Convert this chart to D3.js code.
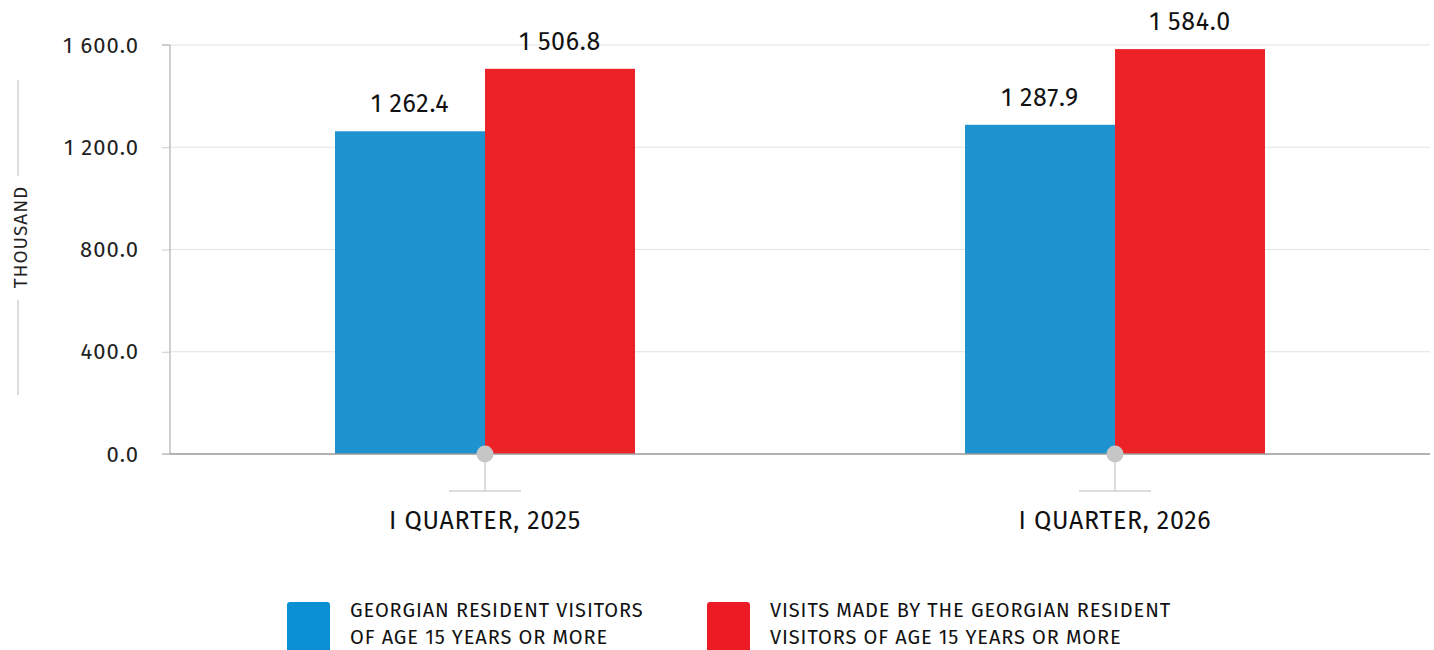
<!DOCTYPE html>
<html><head><meta charset="utf-8">
<script src="https://cdn.jsdelivr.net/npm/d3@7"></script>
<style>
html,body{margin:0;padding:0;background:#fff;}
svg{display:block;font-family:"Fira Sans",Roboto,"Noto Sans",sans-serif;font-weight:400;}
</style></head>
<body>
<svg id="chart" width="1434" height="650"></svg>
<script>
const categories = ["I QUARTER, 2025", "I QUARTER, 2026"];
const seriesNames = ["GEORGIAN RESIDENT VISITORS|OF AGE 15 YEARS OR MORE", "VISITS MADE BY THE GEORGIAN RESIDENT|VISITORS OF AGE 15 YEARS OR MORE"];
const visitors = [1262.4, 1287.9];
const visits = [1506.8, 1584.0];
const yTicks = [0, 400, 800, 1200, 1600];
const colors = ["#1e93d0", "#ed2226"];
const legendColors = ["#0a8fd5", "#ed1c24"];

(function(){
const FONT = "\"Fira Sans\",Roboto,\"Noto Sans\",sans-serif";
const svg = d3.select("#chart");
const mLeft = 170, mRight = 1430, mTop = 45, mBottom = 454;
const fmtS = v => d3.format(",.1f")(v).replace(/,/g, " ");

const x = d3.scaleBand().domain(categories).range([mLeft, mRight]).padding(0);
const y = d3.scaleLinear().domain([0, 1600]).range([mBottom, mTop]);
const barW = 150;

svg.append("g").selectAll("line").data(yTicks.filter(t => t > 0)).join("line")
  .attr("x1", mLeft).attr("x2", mRight).attr("y1", d => y(d)).attr("y2", d => y(d))
  .attr("stroke", "#e3e3e3").attr("stroke-width", 1);

const yAxis = svg.append("g").attr("transform", `translate(${mLeft},0)`)
  .call(d3.axisLeft(y).tickValues(yTicks).tickSize(8).tickPadding(24).tickFormat(fmtS))
  .attr("font-family", FONT).attr("font-size", 22);
yAxis.select(".domain").attr("stroke", "#a0a0a0").attr("d", `M-8,${mTop}H0V${mBottom}H-8`);
yAxis.selectAll(".tick line").attr("stroke", "#c8c8c8");
yAxis.selectAll(".tick text").attr("fill", "#222").attr("letter-spacing", 1).attr("dx", 1);

const data = [visitors, visits];
data.forEach((vals, si) => {
  const g = svg.append("g");
  g.selectAll("rect").data(vals).join("rect")
    .attr("x", (d, i) => x(categories[i]) + x.bandwidth() / 2 - barW + si * barW)
    .attr("y", d => y(d)).attr("width", barW).attr("height", d => y(0) - y(d))
    .attr("fill", colors[si]);
  g.selectAll("text").data(vals).join("text")
    .attr("x", (d, i) => x(categories[i]) + x.bandwidth() / 2 - barW / 2 + si * barW)
    .attr("y", d => y(d) - 19).attr("text-anchor", "middle")
    .attr("font-size", 25).attr("letter-spacing", 0.7).attr("fill", "#111").text(d => fmtS(d));
});

svg.append("line").attr("x1", mLeft).attr("x2", mRight).attr("y1", mBottom).attr("y2", mBottom)
  .attr("stroke", "#999").attr("stroke-width", 1.5);

const cg = svg.append("g").selectAll("g").data(categories).join("g")
  .attr("transform", d => `translate(${x(d) + x.bandwidth() / 2},0)`);
cg.append("line").attr("x1", 0).attr("x2", 0).attr("y1", mBottom).attr("y2", 491).attr("stroke", "#d2d2d2").attr("stroke-width", 1.5);
cg.append("line").attr("x1", -36).attr("x2", 36).attr("y1", 491).attr("y2", 491).attr("stroke", "#d2d2d2").attr("stroke-width", 1.5);
cg.append("circle").attr("cx", 0).attr("cy", mBottom).attr("r", 8.5).attr("fill", "#c6c6c6");
cg.append("text").attr("y", 529).attr("text-anchor", "middle").attr("font-size", 25).attr("letter-spacing", 0.7).attr("fill", "#111").text(d => d);

svg.append("text").attr("transform", "translate(27,237) rotate(-90)").attr("text-anchor", "middle")
  .attr("font-size", 19).attr("letter-spacing", 1).attr("fill", "#222").text("THOUSAND");
svg.append("line").attr("x1", 18).attr("x2", 18).attr("y1", 80).attr("y2", 176).attr("stroke", "#bbb");
svg.append("line").attr("x1", 18).attr("x2", 18).attr("y1", 300).attr("y2", 395).attr("stroke", "#bbb");

const legX = [287, 707];
seriesNames.forEach((n, i) => {
  const g = svg.append("g").attr("transform", `translate(${legX[i]},602)`);
  g.append("rect").attr("width", 43).attr("height", 52).attr("rx", 3).attr("fill", legendColors[i]);
  n.split("|").forEach((l, j) => {
    g.append("text").attr("x", 63).attr("y", 15 + j * 27).attr("font-size", 20).attr("letter-spacing", 0.9).attr("fill", "#111").text(l);
  });
});
})();
</script>
</body></html>
